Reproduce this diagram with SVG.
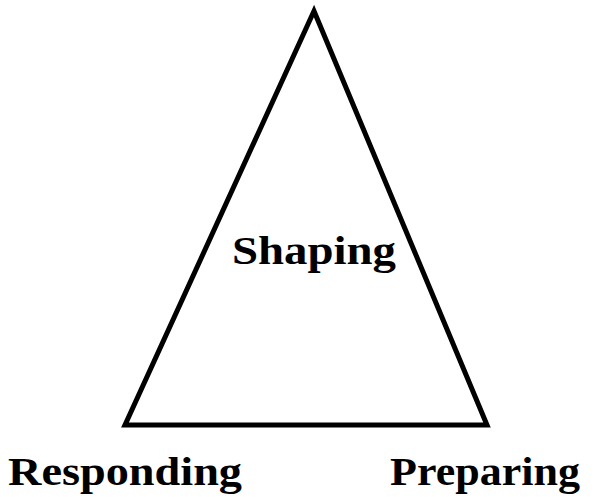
<svg xmlns="http://www.w3.org/2000/svg" width="595" height="497" viewBox="0 0 595 497">
<style>
.t{font-family:"Liberation Serif","Times New Roman",serif;font-weight:bold;font-size:39px;fill:#000}
</style>
<rect width="595" height="497" fill="#fff"/>
<g id="connectors">
<polygon points="314,11 125,425 487,425" fill="none" stroke="#000" stroke-width="5" stroke-linejoin="miter"/>
</g>
<g id="shaping"><text class="t" x="232" y="264" textLength="164" lengthAdjust="spacingAndGlyphs">Shaping</text></g>
<g id="responding"><text class="t" x="8" y="485" textLength="234" lengthAdjust="spacingAndGlyphs">Responding</text></g>
<g id="preparing"><text class="t" x="390" y="485" textLength="190" lengthAdjust="spacingAndGlyphs">Preparing</text></g>
</svg>
